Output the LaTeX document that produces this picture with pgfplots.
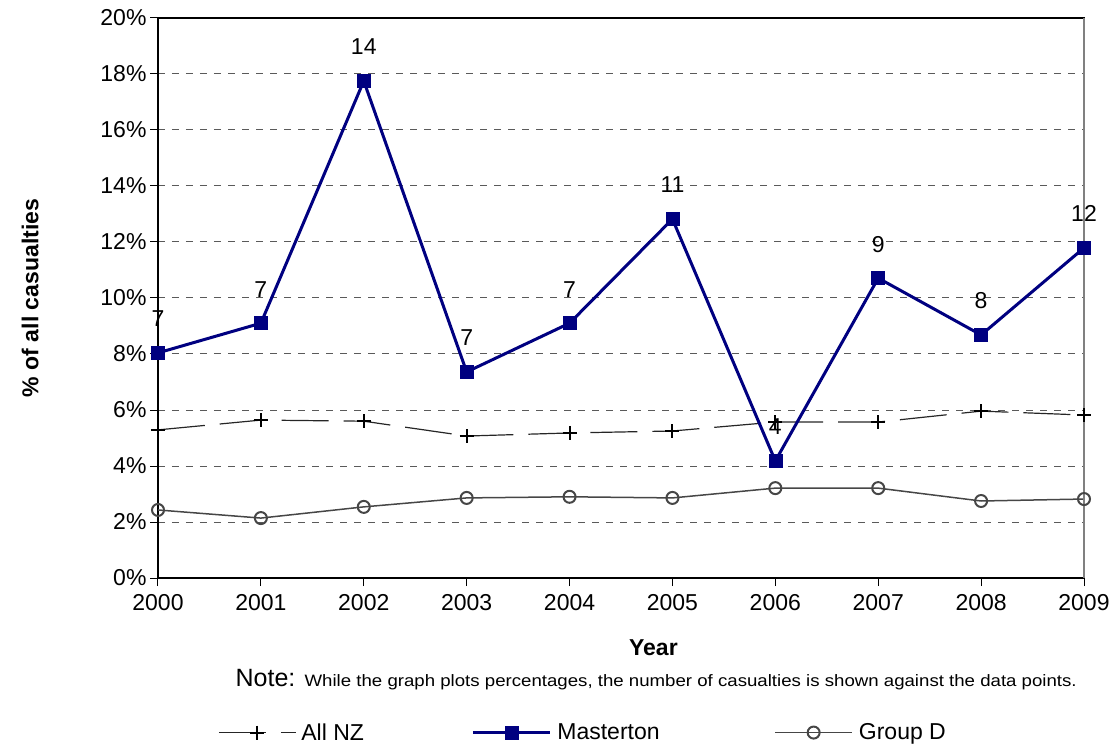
\documentclass[border=0pt]{standalone}
\usepackage{pgfplots}
\pgfplotsset{compat=1.18}
\usepackage{fontspec}
\setmainfont{Liberation Sans}
\definecolor{navyM}{RGB}{0,0,128}
\definecolor{gridgray}{RGB}{90,90,90}
\definecolor{grpd}{RGB}{70,70,70}
\begin{document}
\begin{tikzpicture}
\path[use as bounding box] (-158pt,-171pt) rectangle (957pt,578pt);
\begin{axis}[
  scale only axis, width=926pt, height=560pt,
  xmin=2000, xmax=2009, ymin=0, ymax=20,
  xtick={2000,2001,...,2009}, ytick={0,2,...,20},
  /pgf/number format/assume math mode=true,
  /pgf/number format/1000 sep={},
  yticklabel={\pgfmathprintnumber{\tick}\%},
  ticklabel style={font=\fontsize{23}{27}\selectfont},
  xticklabel style={yshift=-5pt},
  tick align=outside, xtick pos=left, ytick pos=left,
  major tick length=8pt,
  tick style={black, line width=1pt},
  axis line style={black, line width=1.5pt},
  ymajorgrids,
  major grid style={gridgray, line width=1pt, dash pattern=on 7pt off 7pt},
  clip=false,
  xlabel={\textbf{Year}},
  xlabel style={at={(axis description cs:0.535,-0.124)}, anchor=center, font=\fontsize{23}{27}\selectfont},
  ylabel={\textbf{\% of all casualties}},
  ylabel style={at={(axis description cs:-0.138,0.5)}, anchor=center, rotate=0, font=\fontsize{23}{27}\selectfont},
  legend image code/.code={\draw[mark repeat=2,mark phase=2,#1] plot coordinates {(0pt,0pt) (38.5pt,0pt) (77pt,0pt)};},
  legend columns=3,
  legend style={at={(axis description cs:0.0648,-0.276)}, anchor=west, draw=none, fill=none, inner sep=0pt,
    nodes={inner sep=0pt}, font=\fontsize{23}{27}\selectfont,
    /tikz/every odd column/.append style={column sep=0pt}},
]
\addplot[black!85, line width=1.2pt, dash pattern=on 47pt off 15pt, mark=+, mark size=7pt,
  mark options={solid, black, line width=2pt}]
  coordinates {(2000,5.29) (2001,5.64) (2002,5.60) (2003,5.07) (2004,5.18)
               (2005,5.25) (2006,5.57) (2007,5.57) (2008,5.96) (2009,5.82)};
\addlegendentry{\makebox[175pt][l]{\hspace{5pt}All NZ}}
\addplot[navyM, line width=3pt, mark=square*, mark size=6.5pt, mark options={solid, line width=0.5pt},
  nodes near coords, point meta=explicit symbolic,
  every node near coord/.style={black, anchor=center, yshift=34pt, font=\fontsize{23}{27}\selectfont}]
  coordinates {(2000,8.04)[7] (2001,9.10)[7] (2002,17.75)[14] (2003,7.36)[7] (2004,9.10)[7]
               (2005,12.82)[11] (2006,4.18)[4] (2007,10.71)[9] (2008,8.68)[8] (2009,11.79)[12]};
\addlegendentry{\makebox[223pt][l]{\hspace{6pt}Masterton}}
\addplot[grpd, line width=1.5pt, mark=o, mark size=6pt, mark options={line width=2pt}]
  coordinates {(2000,2.43) (2001,2.14) (2002,2.54) (2003,2.86) (2004,2.90)
               (2005,2.86) (2006,3.21) (2007,3.21) (2008,2.75) (2009,2.82)};
\addlegendentry{\hspace{6pt}Group D}
\draw[gray, line width=1.6pt] (rel axis cs:1,0) -- (rel axis cs:1,1);
\node[anchor=west] at (axis description cs:0.08,-0.181)
  {\fontsize{25}{30}\selectfont Note: \scalebox{1.13}[1]{\fontsize{16.5}{20}\selectfont While the graph plots percentages, the number of casualties is shown against the data points.}};
\end{axis}
\end{tikzpicture}
\end{document}
